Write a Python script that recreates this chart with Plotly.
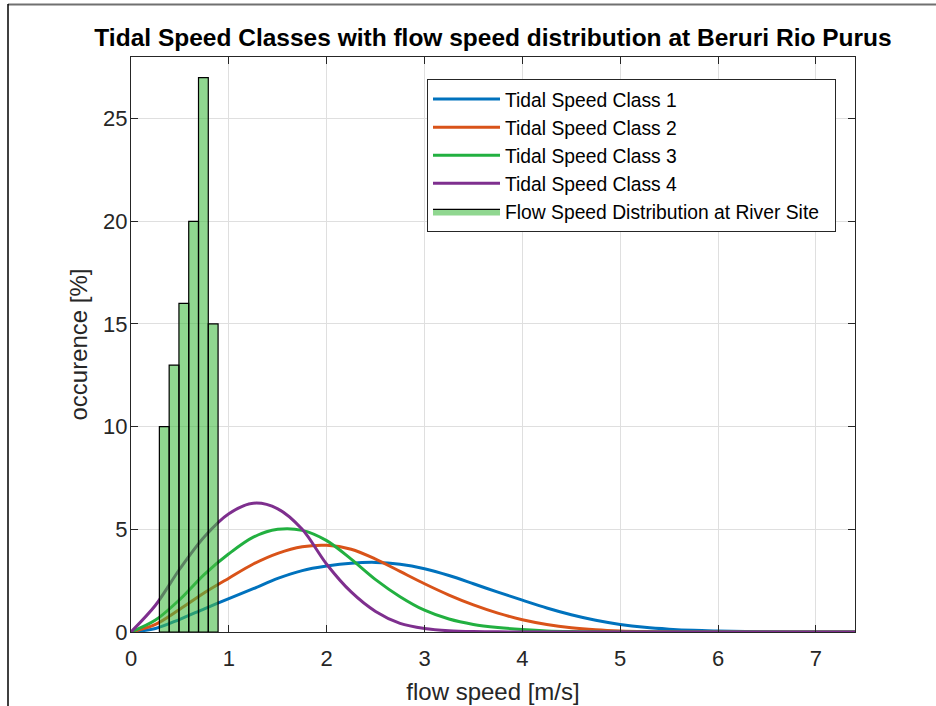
import plotly.graph_objects as go

# ---- data ----
speed = [0, 0.25, 0.5, 0.75, 1.0, 1.25, 1.5, 1.75, 2.0, 2.25, 2.5, 2.75, 3.0, 3.25,
         3.5, 3.75, 4.0, 4.25, 4.5, 4.75, 5.0, 5.25, 5.5, 5.75, 6.0, 6.5, 7.0, 7.4]
class1 = [0, 0.17, 0.62, 1.13, 1.63, 2.11, 2.61, 2.99, 3.21, 3.35, 3.39, 3.30, 3.08, 2.75,
          2.35, 1.94, 1.55, 1.17, 0.84, 0.57, 0.37, 0.23, 0.14, 0.08, 0.05, 0.01, 0, 0]
class2 = [0, 0.37, 1.11, 1.91, 2.62, 3.31, 3.83, 4.15, 4.22, 4.03, 3.55, 2.95, 2.35, 1.80,
          1.32, 0.92, 0.60, 0.37, 0.21, 0.11, 0.05, 0.02, 0.01, 0, 0, 0, 0, 0]
class3 = [0, 0.58, 1.59, 2.81, 3.81, 4.62, 5.00, 4.95, 4.45, 3.55, 2.55, 1.72, 1.06, 0.63,
          0.37, 0.22, 0.12, 0.05, 0.02, 0.01, 0, 0, 0, 0, 0, 0, 0, 0]
class4 = [0, 1.30, 3.08, 4.64, 5.76, 6.27, 6.00, 5.00, 3.30, 1.95, 1.00, 0.42, 0.17, 0.06,
          0.02, 0.01, 0, 0, 0, 0, 0, 0, 0, 0, 0, 0, 0, 0]

hist_edges = [0.29, 0.39, 0.49, 0.59, 0.69, 0.79, 0.89]
hist_pct = [10, 13, 16, 20, 27, 15]

class_names = ["Tidal Speed Class 1", "Tidal Speed Class 2",
               "Tidal Speed Class 3", "Tidal Speed Class 4"]
hist_name = "Flow Speed Distribution at River Site"
x_ticks = [0, 1, 2, 3, 4, 5, 6, 7]
y_ticks = [0, 5, 10, 15, 20, 25]

colors = ["#0072BD", "#D95319", "#22B040", "#7E2F8E"]

fig = go.Figure()
for i, (name, vals) in enumerate(zip(class_names, [class1, class2, class3, class4])):
    fig.add_trace(go.Scatter(
        x=speed, y=vals, mode="lines", name=name,
        line=dict(color=colors[i], width=3, shape="spline", smoothing=0.9),
    ))

# histogram bars drawn as closed outlines so they sit on top of the curves
hx, hy = [], []
for i, h in enumerate(hist_pct):
    x0, x1 = hist_edges[i], hist_edges[i + 1]
    hx += [x0, x0, x1, x1, x0, None]
    hy += [0, h, h, 0, 0, None]
fig.add_trace(go.Scatter(
    x=hx, y=hy, mode="lines", fill="toself", name=hist_name + "\u00a0\u00a0",
    fillcolor="rgba(70,188,70,0.6)", line=dict(color="#000000", width=1.2),
))

L, R, T, B = 131, 81, 57, 74
W, H = 936, 706
pw, ph = W - L - R, H - T - B


def px(x):
    return (x - L) / pw


def py(y):
    return (H - B - y) / ph


axis_common = dict(
    showline=True, linecolor="#262626", linewidth=1, mirror="ticks",
    ticks="inside", ticklen=7, tickwidth=1, tickcolor="#262626",
    showgrid=True, gridcolor="#dfdfdf", gridwidth=1, zeroline=False,
    tickfont=dict(size=22, color="#262626"), automargin=False,
)

fig.update_layout(
    width=W, height=H,
    margin=dict(l=L, r=R, t=T, b=B, autoexpand=False),
    paper_bgcolor="white", plot_bgcolor="white",
    font=dict(family="Liberation Sans, Arial, sans-serif", color="#262626", size=22),
    title=dict(text="<b>Tidal Speed Classes with flow speed distribution at Beruri Rio Purus</b>",
               x=0.5, xref="paper", xanchor="center",
               y=1 - 37 / H, yref="container", yanchor="middle",
               font=dict(size=24.5, color="#000000")),
    xaxis=dict(range=[0, 7.4], tickvals=x_ticks, ticklabelstandoff=7,
               title=dict(text="flow speed [m/s]", font=dict(size=24, color="#262626"), standoff=12),
               **axis_common),
    yaxis=dict(range=[0, 28], tickvals=y_ticks, ticklabelstandoff=-2,
               title=dict(text="occurence [%]", font=dict(size=24, color="#262626"), standoff=8),
               **axis_common),
    legend=dict(x=px(836), xanchor="right", y=py(79), yanchor="top",
                bgcolor="white", bordercolor="#262626", borderwidth=1,
                font=dict(size=19.3, color="#000000"), itemwidth=67),
    showlegend=True,
    shapes=[
        dict(type="line", xref="paper", yref="paper", x0=px(8), x1=px(936), y0=py(4.5), y1=py(4.5),
             line=dict(color="#707070", width=2)),
        dict(type="line", xref="paper", yref="paper", x0=px(8), x1=px(8), y0=py(4), y1=py(706),
             line=dict(color="#000000", width=1.5)),
    ],
)

fig.write_html("out.html", config={"displayModeBar": False},
               post_script="document.body.style.margin='0';document.body.style.overflow='hidden';")
